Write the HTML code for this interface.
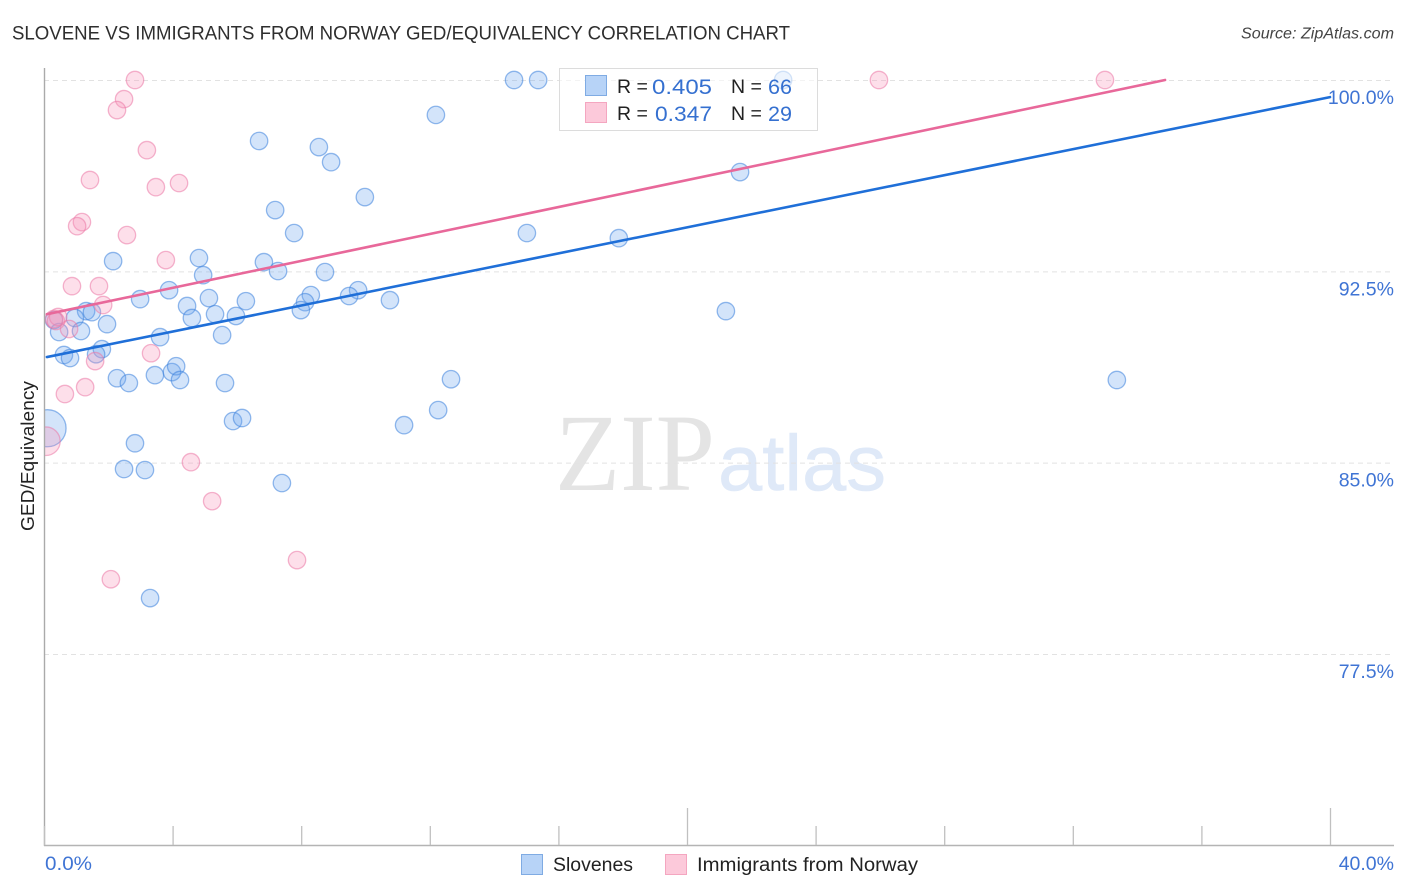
<!DOCTYPE html>
<html lang="en">
<head>
<meta charset="utf-8">
<title>Slovene vs Immigrants from Norway GED/Equivalency Correlation Chart</title>
<style>
html,body{margin:0;padding:0;background:#fff;width:1406px;height:892px;overflow:hidden}
svg{display:block;font-family:"Liberation Sans",sans-serif}
</style>
</head>
<body>
<svg id="chart" xmlns="http://www.w3.org/2000/svg" width="1406" height="892" viewBox="0 0 1406 892">
  <rect width="1406" height="892" fill="#fff"/>
  <text x="12" y="39.5" font-size="19" fill="#2e2e2e" textLength="778" lengthAdjust="spacingAndGlyphs">SLOVENE VS IMMIGRANTS FROM NORWAY GED/EQUIVALENCY CORRELATION CHART</text>
  <text x="1241" y="38.5" font-size="15.5" font-style="italic" fill="#444" textLength="153" lengthAdjust="spacingAndGlyphs">Source: ZipAtlas.com</text>
  <g id="watermark">
    <text x="555" y="490" font-family="'Liberation Serif',serif" font-size="110" fill="#e4e4e4" textLength="160" lengthAdjust="spacingAndGlyphs">ZIP</text>
    <text x="718" y="490" font-size="79" fill="#dfe9f8" stroke="#dfe9f8" stroke-width="0.6" textLength="168" lengthAdjust="spacingAndGlyphs">atlas</text>
  </g>
  <g id="grid"></g>
  <svg id="plot-area" x="44" y="60" width="1350" height="786" viewBox="44 60 1350 786" overflow="hidden">
    <g id="marks"></g>
  </svg>
  <rect x="18" y="400" width="26" height="65" fill="#fff"/>
  <g id="trends"></g>
  <g id="axes"></g>
  <text transform="translate(34,456) rotate(-90)" font-size="18" fill="#222" text-anchor="middle" textLength="150" lengthAdjust="spacingAndGlyphs">GED/Equivalency</text>

  <g>
    <rect x="559.5" y="68.5" width="258" height="62" fill="#fff" fill-opacity="0.6" stroke="#dcdcdc" stroke-width="1"/>
    <rect x="585.5" y="75.5" width="21" height="20" fill="#b7d3f7" stroke="#7fabe3" stroke-width="1"/>
    <rect x="585.5" y="102.5" width="21" height="20" fill="#fcc9da" stroke="#f4a6c0" stroke-width="1"/>
    <g font-size="19.5" fill="#222">
      <text x="617" y="93">R =</text>
      <text x="731" y="93">N =</text>
      <text x="617" y="120">R =</text>
      <text x="731" y="120">N =</text>
    </g>
    <g font-size="21" fill="#3570d0">
      <text x="712" y="94" text-anchor="end" textLength="60" lengthAdjust="spacingAndGlyphs">0.405</text>
      <text x="792" y="94" text-anchor="end" textLength="24" lengthAdjust="spacingAndGlyphs">66</text>
      <text x="712" y="121" text-anchor="end" textLength="57" lengthAdjust="spacingAndGlyphs">0.347</text>
      <text x="792" y="121" text-anchor="end" textLength="24" lengthAdjust="spacingAndGlyphs">29</text>
    </g>
  </g>

  <g>
    <rect x="521.5" y="854.5" width="21" height="20" fill="#b7d3f7" stroke="#7fabe3" stroke-width="1"/>
    <text x="553" y="871" font-size="19" fill="#222" textLength="80" lengthAdjust="spacingAndGlyphs">Slovenes</text>
    <rect x="665.5" y="854.5" width="21" height="20" fill="#fcc9da" stroke="#f4a6c0" stroke-width="1"/>
    <text x="697" y="871" font-size="19" fill="#222" textLength="221" lengthAdjust="spacingAndGlyphs">Immigrants from Norway</text>
  </g>
</svg>
<script>
// Percent values.
const sloveneX = [0.11,14.62,15.37,22.99,12.19,6.69,8.55,8.93,21.65,9.98,7.19,7.78,15.02,17.88,4.82,2.15,6.84,7.28,4.95,8.74,3.89,9.77,8.30,9.49,5.13,2.99,10.76,6.28,8.12,4.45,7.99,21.21,5.32,1.31,1.49,5.97,4.60,0.96,0.31,1.96,0.47,1.15,5.54,3.61,1.80,0.62,0.81,1.62,2.27,2.64,3.45,3.98,4.11,4.23,5.63,5.88,6.16,2.83,2.49,3.14,7.40,3.30,11.20,12.26,12.66,33.37];
const sloveneY = [86.35,100,100,100,98.63,97.61,97.37,96.78,96.39,95.41,94.90,94.00,94.00,93.80,93.02,92.90,92.86,92.51,92.35,92.47,91.76,91.76,91.57,91.53,91.45,91.41,91.37,91.33,91.29,91.14,90.98,90.94,90.82,90.94,90.90,90.75,90.67,90.67,90.59,90.43,90.12,90.16,90.00,89.92,89.45,89.22,89.10,89.25,88.31,88.12,88.43,88.55,88.78,88.24,88.12,86.63,86.75,85.76,84.75,84.71,84.20,79.69,86.47,87.06,88.27,88.24];
const sloveneScale = [2.13];
const norwayX = [2.83,2.49,2.27,3.20,1.43,4.20,3.48,1.18,1.03,2.58,3.79,0.87,1.71,1.84,0.31,0.44,0.37,0.78,1.59,3.33,1.28,0.65,0.06,4.57,5.23,7.87,2.08,25.97,33.00];
const norwayY = [100,99.25,98.82,97.25,96.08,95.96,95.80,94.43,94.27,93.92,92.94,91.92,91.92,91.18,90.63,90.71,90.55,90.24,88.98,89.29,87.96,87.69,85.84,85.02,83.49,81.18,80.43,100,100];
const norwayScale = [];
norwayScale[22] = 1.64;
const sloveneTrendX = [0.09,40];
const sloveneTrendY = [89.14,99.33];
const norwayTrendX = [0.09,34.87];
const norwayTrendY = [90.82,100];
const yTicks = [100,92.5,85,77.5];
const yTickLabels = ["100.0%","92.5%","85.0%","77.5%"];
const xTicks = [0,4,8,12,16,20,24,28,32,36,40];
const xMajorTicks = [20,40];
const xEndLabels = ["0.0%","40.0%"];

const NS = "http://www.w3.org/2000/svg";
const xPos = v => 44 + v * 32.15;
const yPos = v => 80 + (100 - v) * 25.51;
const baseRadius = 8.7;

function mk(parent, tag, attrs, text) {
  const el = document.createElementNS(NS, tag);
  for (const k in attrs) el.setAttribute(k, attrs[k]);
  if (text !== undefined) el.textContent = text;
  parent.appendChild(el);
  return el;
}

const grid = document.getElementById("grid");
yTicks.forEach((t, i) => {
  const line = mk(grid, "line", {x1: 44, x2: 1394, y1: yPos(t) + 0.5, y2: yPos(t) + 0.5, stroke: "#e2e2e2", "stroke-width": 1, "stroke-dasharray": "5 4"});
  
  
});

function drawSeries(xs, ys, scales, fill, stroke, name) {
  const g = document.getElementById("marks");
  xs.forEach((x, i) => {
    const c = mk(g, "circle", {cx: xPos(x), cy: yPos(ys[i]), r: baseRadius * (scales[i] || 1), fill: fill, stroke: stroke, "stroke-width": 1.3});
    
    
  });
}
drawSeries(sloveneX, sloveneY, sloveneScale, "rgba(110,165,240,0.3)", "rgba(60,130,220,0.55)", "slovene-point");
drawSeries(norwayX, norwayY, norwayScale, "rgba(248,150,185,0.3)", "rgba(235,120,165,0.55)", "norway-point");

const trends = document.getElementById("trends");
const blueLine = mk(trends, "line", {x1: xPos(sloveneTrendX[0]), y1: yPos(sloveneTrendY[0]), x2: xPos(sloveneTrendX[1]), y2: yPos(sloveneTrendY[1]), stroke: "#1f6fd8", "stroke-width": 2.6, "stroke-linecap": "round"});


const pinkLine = mk(trends, "line", {x1: xPos(norwayTrendX[0]), y1: yPos(norwayTrendY[0]), x2: xPos(norwayTrendX[1]), y2: yPos(norwayTrendY[1]), stroke: "#e8689a", "stroke-width": 2.6, "stroke-linecap": "round"});



const axes = document.getElementById("axes");
const yAxis = mk(axes, "line", {x1: 44.5, x2: 44.5, y1: 68, y2: 846, stroke: "#aaa", "stroke-width": 1.4});


const xAxis = mk(axes, "line", {x1: 44, x2: 1394, y1: 845.5, y2: 845.5, stroke: "#b4b4b4", "stroke-width": 1.4});



xTicks.forEach(t => {
  const top = xMajorTicks.includes(t) ? 808 : 826;
  const tick = mk(axes, "line", {x1: xPos(t) + 0.5, x2: xPos(t) + 0.5, y1: top, y2: 845, stroke: "#c0c0c0", "stroke-width": 1.3});
  
  
});

yTicks.forEach((t, i) => {
  const label = mk(axes, "text", {x: 1394, y: yPos(t) + 24, "font-size": 19.5, fill: "#3f74d4", "text-anchor": "end"}, yTickLabels[i]);
  
  
});

const xStart = mk(axes, "text", {x: 45, y: 870, "font-size": 19.5, fill: "#3f74d4", textLength: 47, lengthAdjust: "spacingAndGlyphs"}, xEndLabels[0]);


const xEnd = mk(axes, "text", {x: 1394, y: 870, "font-size": 19.5, fill: "#3f74d4", "text-anchor": "end"}, xEndLabels[1]);


</script>
</body>
</html>
